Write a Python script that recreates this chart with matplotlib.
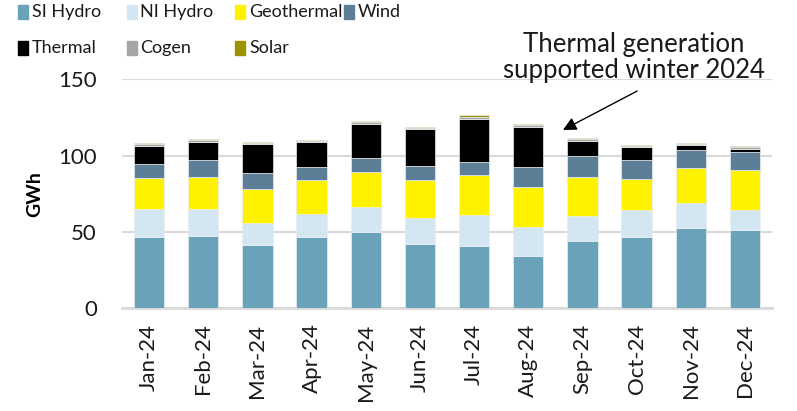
import matplotlib.pyplot as plt
import numpy as np
from matplotlib.patches import Rectangle

plt.rcParams["font.family"] = ["Lato", "DejaVu Sans"]

months = ["Jan-24", "Feb-24", "Mar-24", "Apr-24", "May-24", "Jun-24",
          "Jul-24", "Aug-24", "Sep-24", "Oct-24", "Nov-24", "Dec-24"]

si_hydro = [46.9, 47.6, 41.5, 46.9, 50.0, 42.1, 40.8, 34.5, 44.1, 46.7, 52.6, 51.3]
ni_hydro = [18.0, 17.5, 14.2, 14.7, 16.4, 17.3, 20.3, 18.6, 16.6, 17.9, 16.6, 13.3]
geothermal = [20.7, 21.1, 22.3, 22.5, 23.1, 24.7, 26.1, 26.4, 25.3, 20.3, 22.9, 25.8]
wind = [8.8, 10.8, 10.7, 8.7, 8.8, 9.3, 8.7, 12.9, 14.0, 12.1, 11.8, 12.0]
thermal = [12.2, 12.2, 19.0, 16.0, 22.7, 23.9, 27.9, 26.6, 9.8, 8.5, 2.9, 2.2]
cogen = [1.1, 0.9, 0.8, 0.8, 1.1, 0.9, 1.8, 1.1, 0.9, 0.7, 0.9, 0.9]
solar = [0.6, 0.6, 0.7, 0.9, 0.6, 0.6, 0.9, 0.7, 0.7, 0.6, 0.6, 0.7]

series = [
    ("SI Hydro", si_hydro, "#6aa3b9"),
    ("NI Hydro", ni_hydro, "#d5e6f3"),
    ("Geothermal", geothermal, "#fff200"),
    ("Wind", wind, "#5c7f97"),
    ("Thermal", thermal, "#000000"),
    ("Cogen", cogen, "#a6a6a6"),
    ("Solar", solar, "#9d9100"),
]

W, H = 797, 411
fig = plt.figure(figsize=(W / 100, H / 100), dpi=100)
ax = fig.add_axes([122 / W, 1 - 308.3 / H, 650 / W, 229 / H])

x = np.arange(len(months))
bottom = np.zeros(len(months))
for name, vals, color in series:
    vals = np.array(vals)
    ax.bar(x, vals, width=0.56, bottom=bottom, color=color,
           edgecolor="#e8eef2", linewidth=0.5, zorder=3)
    bottom += vals

ax.set_xlim(-0.5, 11.5)
ax.set_ylim(0, 150)
ax.set_yticks([0, 50, 100, 150])
ax.yaxis.grid(True, color="#d9d9d9", linewidth=1.5, zorder=0)
ax.set_axisbelow(True)
for s in ["left", "right", "top"]:
    ax.spines[s].set_visible(False)
ax.spines["bottom"].set_color("#d9d9d9")
ax.spines["bottom"].set_linewidth(2)
ax.tick_params(axis="both", length=0, labelsize=16, colors="#1a1a1a")
ax.tick_params(axis="y", pad=18)
ax.tick_params(axis="x", pad=11)
ax.set_xticks(x)
ax.set_xticklabels(months, rotation=90)
ax.set_ylabel("GWh", fontsize=14, fontweight="bold", labelpad=11)

ax.annotate("", xy=(7.64, 116.8), xytext=(9.01, 142.3), annotation_clip=False,
            arrowprops=dict(arrowstyle="-|>", color="black", lw=1,
                            mutation_scale=20, shrinkA=0, shrinkB=0))
ax.text(8.95, 164.6, "Thermal generation\nsupported winter 2024",
        ha="center", va="center", fontsize=18.5, color="#1a1a1a",
        linespacing=1.05, clip_on=False)

# legend: 4 columns x 2 rows, laid out like the source
for k, (name, _, color) in enumerate(series):
    col, row = k % 4, k // 4
    px = 18 + col * 108.5
    py = 12 + row * 36
    fig.patches.append(Rectangle((px / W, 1 - (py + 7) / H), 10 / W, 14 / H,
                                 transform=fig.transFigure, color=color,
                                 figure=fig))
    fig.text((px + 14) / W, 1 - py / H, name, fontsize=13, color="#1a1a1a",
             ha="left", va="center")

fig.savefig("out.png", dpi=100)
